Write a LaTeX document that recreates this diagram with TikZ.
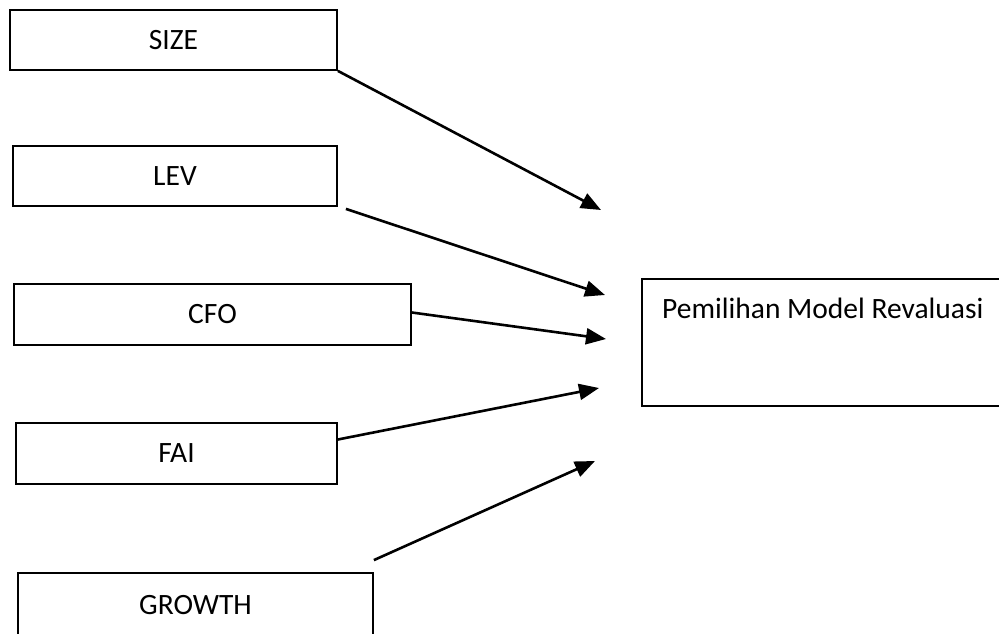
\documentclass[tikz,border=0pt]{standalone}
\usepackage{fontspec}
\setmainfont{Carlito}
\usetikzlibrary{arrows.meta}
\tikzset{
    kasten/.style={draw, line width=1.8pt, inner sep=0pt, font=\fontsize{29.5}{35}\selectfont},
    pfeil/.style={line width=2.6pt, -{Triangle[length=20pt, width=16pt]}}
}

\begin{document}
\begin{tikzpicture}[x=1pt, y=-1pt]

% Rahmen
\clip (0,0) rectangle (999,634);

% Variablen
\node[kasten, minimum width=327pt, minimum height=60pt] (size) at (173.5,40) {SIZE};
\node[kasten, minimum width=324pt, minimum height=60pt] (lev) at (175,176) {LEV};
\node[kasten, minimum width=397pt, minimum height=61pt] (cfo) at (212.5,314.5) {CFO};
\node[kasten, minimum width=321pt, minimum height=61pt] (fai) at (176.5,453.5) {FAI};
\node[kasten, minimum width=355pt, minimum height=64pt] (growth) at (195.5,605) {GROWTH};

% Zielkasten
\node[kasten, minimum width=369pt, minimum height=127pt, anchor=north west] (modell) at (641,278) {};
\node[anchor=base west, inner sep=0pt, font=\fontsize{29.5}{35}\selectfont] (modelltext)
    at ([xshift=21pt, yshift=-40pt]modell.north west) {Pemilihan Model Revaluasi};

% Pfeilspitzen
\coordinate (Z1) at (601,210);
\coordinate (Z2) at (605,295);
\coordinate (Z3) at (606,339);
\coordinate (Z4) at (599,388);
\coordinate (Z5) at (595,461);

% Pfeile
\draw[pfeil] (size.south east) -- (Z1);
\draw[pfeil] ([xshift=8pt, yshift=-2pt]lev.south east) -- (Z2);
\draw[pfeil] ([yshift=2pt]cfo.east) -- (Z3);
\draw[pfeil] ([yshift=14pt]fai.east) -- (Z4);
\draw[pfeil] ([yshift=12pt]growth.north east) -- (Z5);

\end{tikzpicture}
\end{document}
